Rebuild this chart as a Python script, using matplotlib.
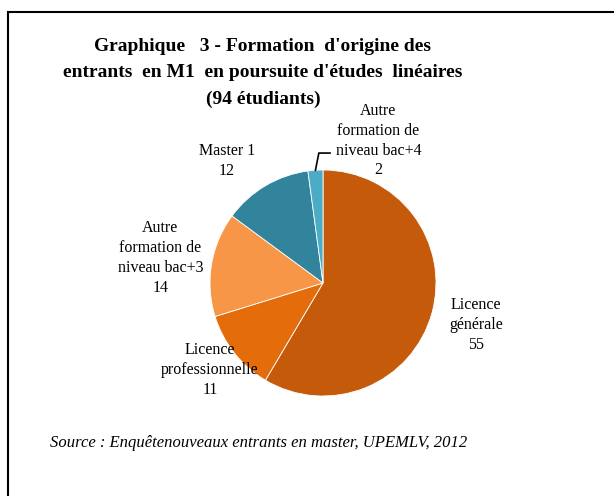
import numpy as np
import matplotlib
matplotlib.use("Agg")
import matplotlib.pyplot as plt
from matplotlib.patches import Rectangle

categories = ["Licence\ngénérale", "Licence\nprofessionnelle",
              "Autre\nformation de\nniveau bac+3", "Master 1",
              "Autre\nformation de\nniveau bac+4"]
values = [55, 11, 14, 12, 2]
colors = ["#C55A0A", "#E46C0A", "#F79646", "#31849B", "#4BACC6"]
title = "Graphique   3 - Formation  d'origine des\nentrants  en M1  en poursuite d'études  linéaires\n(94 étudiants)"
source = "Source : Enquêtenouveaux entrants en master, UPEMLV, 2012"

plt.rcParams['font.family'] = ['Liberation Serif', 'DejaVu Serif']

W, H = 614, 496
fig = plt.figure(figsize=(W / 100, H / 100), dpi=100)
fig.patch.set_facecolor("white")

# frame (top and left visible, extends beyond right/bottom)
fig.add_artist(Rectangle((8 / W, -0.1), 1.2, (1 - 12 / H) + 0.1,
                         transform=fig.transFigure, fill=False,
                         edgecolor="black", linewidth=1.5))

cx, cy, r = 323, 283, 113
ax = fig.add_axes([(cx - r) / W, (H - cy - r) / H, 2 * r / W, 2 * r / H])
wedges, _ = ax.pie(values, colors=colors, startangle=90, counterclock=False,
                   radius=1.0, wedgeprops=dict(edgecolor="white", linewidth=0.6))
ax.set_xlim(-1, 1)
ax.set_ylim(-1, 1)
ax.set_aspect("equal")
ax.axis("off")

label_pos = [(1.354, -0.372), (-1.0, -0.77), (-1.44, 0.22), (-0.85, 1.08), (0.49, 1.26)]
for cat, v, (x, y) in zip(categories, values, label_pos):
    ax.text(x, y, f"{cat}\n{v}", ha="center", va="center", fontsize=11.5,
            linespacing=1.32, clip_on=False)

# leader line for the small slice
w = wedges[4]
ang = np.deg2rad((w.theta1 + w.theta2) / 2)
ex, ey = np.cos(ang), np.sin(ang)
ax.plot([ex, ex + 0.03, 0.062], [ey, 1.15, 1.15], color="black", lw=1.2, clip_on=False)

fig.text(263 / W, 1 - 73 / H, title, ha="center", va="center", fontsize=14,
         fontweight="bold", linespacing=1.72)
fig.text(259 / W, 1 - 443 / H, source, ha="center", va="center", fontsize=12,
         style="italic")

fig.savefig("out.png", dpi=100)
